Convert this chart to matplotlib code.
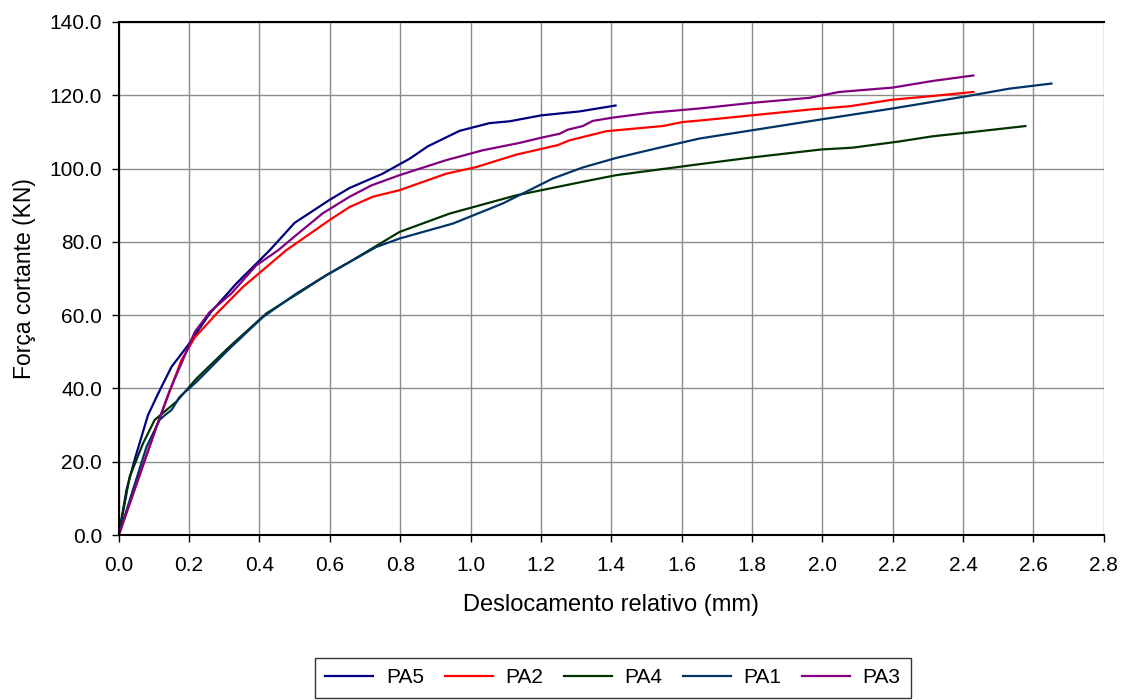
import matplotlib.pyplot as plt
import numpy as np

plt.rcParams['font.family'] = ['Liberation Sans', 'DejaVu Sans']

#%% Data: shear force vs relative displacement

pa5_x = [0.0, 0.022, 0.045, 0.083, 0.112, 0.15, 0.197, 0.259, 0.334, 0.429, 0.5, 0.6,
         0.656, 0.75, 0.827, 0.879, 0.969, 1.054, 1.111, 1.2, 1.31, 1.412]
pa5_y = [0.0, 12.3, 20.5, 32.7, 38.6, 45.9, 51.8, 60.5, 68.6, 77.7, 85.2, 91.5,
         94.7, 98.6, 102.7, 106.1, 110.3, 112.4, 112.9, 114.5, 115.6, 117.2]

pa2_x = [0.0, 0.107, 0.178, 0.216, 0.278, 0.353, 0.476, 0.6, 0.656, 0.722, 0.798,
         0.931, 1.016, 1.13, 1.248, 1.281, 1.386, 1.546, 1.603, 1.651, 1.797,
         1.963, 2.077, 2.2, 2.313, 2.429]
pa2_y = [0.0, 29.5, 47.7, 53.9, 60.4, 67.7, 77.7, 86.0, 89.5, 92.3, 94.1,
         98.6, 100.4, 103.8, 106.4, 107.7, 110.2, 111.6, 112.7, 113.1, 114.5,
         116.1, 117.0, 118.8, 119.8, 120.9]

pa4_x = [0.0, 0.031, 0.069, 0.102, 0.164, 0.221, 0.315, 0.42, 0.524, 0.59, 0.656,
         0.798, 0.94, 1.13, 1.319, 1.414, 1.651, 1.797, 1.996, 2.086, 2.219,
         2.313, 2.429, 2.577]
pa4_y = [0.0, 15.9, 25.0, 31.4, 36.4, 42.7, 51.4, 60.5, 66.8, 70.9, 74.5,
         82.7, 87.7, 92.7, 96.4, 98.2, 101.2, 103.0, 105.2, 105.7, 107.4,
         108.8, 110.0, 111.6]

pa1_x = [0.0, 0.079, 0.116, 0.131, 0.15, 0.173, 0.221, 0.315, 0.41, 0.505, 0.59,
         0.656, 0.732, 0.798, 0.95, 1.092, 1.234, 1.319, 1.414, 1.528, 1.651,
         1.797, 1.996, 2.2, 2.408, 2.531, 2.651]
pa1_y = [0.0, 24.1, 31.4, 32.7, 34.1, 37.7, 41.8, 50.9, 59.5, 65.9, 70.9,
         74.5, 78.6, 80.9, 85.0, 90.5, 97.3, 100.3, 102.9, 105.5, 108.2,
         110.4, 113.4, 116.4, 119.7, 121.8, 123.2]

pa3_x = [0.0, 0.107, 0.145, 0.178, 0.216, 0.259, 0.32, 0.391, 0.453, 0.5, 0.58,
         0.656, 0.718, 0.798, 0.931, 1.035, 1.139, 1.2, 1.253, 1.276, 1.319,
         1.347, 1.404, 1.509, 1.651, 1.797, 1.963, 2.048, 2.2, 2.313, 2.429]
pa3_y = [0.0, 29.5, 39.5, 46.8, 55.4, 60.9, 65.9, 73.6, 77.7, 81.5, 87.8,
         92.3, 95.4, 98.2, 102.3, 105.0, 107.0, 108.4, 109.5, 110.6, 111.6,
         113.0, 113.9, 115.2, 116.4, 117.9, 119.3, 120.9, 122.1, 123.9, 125.4]

series = [('PA5', pa5_x, pa5_y, '#000080'),
          ('PA2', pa2_x, pa2_y, '#FF0000'),
          ('PA4', pa4_x, pa4_y, '#003300'),
          ('PA1', pa1_x, pa1_y, '#003366'),
          ('PA3', pa3_x, pa3_y, '#800080')]

#%% Plot

fig = plt.figure(figsize=(11.31, 7.0), dpi=100)
ax = fig.add_axes([0.105, 0.2357, 0.871, 0.7329])

for name, xs, ys, col in series:
    ax.plot(xs, ys, color=col, linewidth=1.6, label=name)

ax.set_xlim(0, 2.8)
ax.set_ylim(0, 140)
ax.set_xticks(np.arange(0, 2.81, 0.2))
ax.set_yticks(np.arange(0, 141, 20))
ax.xaxis.set_major_formatter(plt.FormatStrFormatter('%.1f'))
ax.yaxis.set_major_formatter(plt.FormatStrFormatter('%.1f'))
ax.tick_params(labelsize=15, direction='out', length=5, width=1, color='black')
ax.tick_params(axis='x', pad=10)
ax.tick_params(axis='y', pad=7)
ax.grid(True, color='#8c8c8c', linewidth=1)
ax.set_axisbelow(True)
for s in ax.spines.values():
    s.set_linewidth(1.5)
    s.set_color('black')
ax.spines['right'].set_visible(False)

ax.set_xlabel('Deslocamento relativo (mm)', fontsize=17, labelpad=14)
ax.set_ylabel('Força cortante (KN)', fontsize=16.5, labelpad=10)

leg = fig.legend(loc='upper center', bbox_to_anchor=(0.542, 0.075), ncol=5,
                 fontsize=15, frameon=True, fancybox=False, edgecolor='black',
                 handlelength=2.3, handletextpad=0.6, columnspacing=1.0,
                 borderpad=0.5)
leg.get_frame().set_linewidth(1)

plt.savefig('out.png', dpi=100)
